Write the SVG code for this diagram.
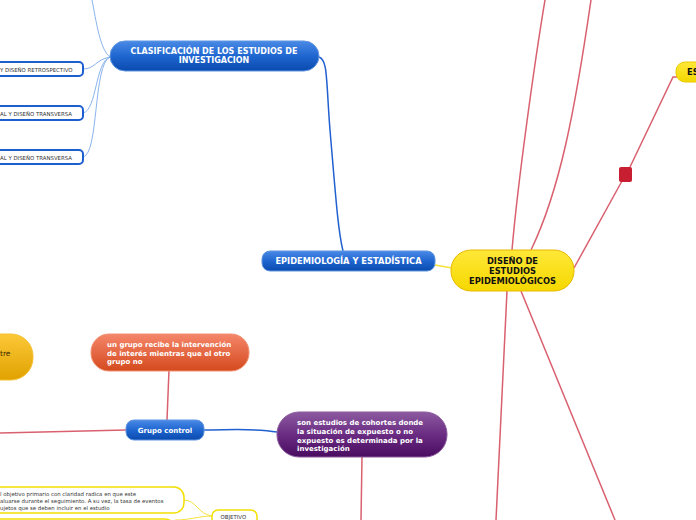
<svg xmlns="http://www.w3.org/2000/svg" width="696" height="520" viewBox="0 0 696 520">
<defs>
<linearGradient id="gBlue" x1="0" y1="0" x2="0" y2="1"><stop offset="0" stop-color="#4a8ae6"/><stop offset="0.5" stop-color="#1f66d0"/><stop offset="1" stop-color="#0a4aae"/></linearGradient>
<linearGradient id="gYel" x1="0" y1="0" x2="0" y2="1"><stop offset="0" stop-color="#ffe838"/><stop offset="1" stop-color="#f5d800"/></linearGradient>
<linearGradient id="gPur" x1="0" y1="0" x2="0" y2="1"><stop offset="0" stop-color="#8c5aa0"/><stop offset="0.5" stop-color="#6a2c82"/><stop offset="1" stop-color="#4a0c60"/></linearGradient>
<linearGradient id="gOra" x1="0" y1="0" x2="0" y2="1"><stop offset="0" stop-color="#f5866a"/><stop offset="1" stop-color="#d44a1e"/></linearGradient>
<linearGradient id="gGold" x1="0" y1="0" x2="0" y2="1"><stop offset="0" stop-color="#fcc838"/><stop offset="1" stop-color="#e0a200"/></linearGradient>
</defs>
<style>
.bl{stroke:#2060d0;fill:none;stroke-width:1.5}
.lb{stroke:#8ab4ec;fill:none;stroke-width:1}
.rd{stroke:#d9606e;fill:none;stroke-width:1.5}
.yl{stroke:#f5e23a;fill:none;stroke-width:1}
.tw{font-family:"DejaVu Sans",Verdana,sans-serif;font-weight:bold;fill:#fff;font-size:8px}
.tb{font-family:"DejaVu Sans",Verdana,sans-serif;font-weight:bold;fill:#fff;font-size:7px}
.tk{font-family:"DejaVu Sans",Verdana,sans-serif;font-weight:bold;fill:#111;font-size:8.3px}
.ts{font-family:"DejaVu Sans",Verdana,sans-serif;fill:#333;font-size:5.4px}
.tn{font-family:"DejaVu Sans",Verdana,sans-serif;fill:#3a2a00;font-size:7.5px}
.bnode{fill:url(#gBlue);stroke:#5f95e0;stroke-width:1}
.wbox{fill:#fff;stroke:#1e5fcf;stroke-width:2}
.ybox{fill:#fff;stroke:#f2e000;stroke-width:1.5}
</style>
<g id="connectors">
<path class="lb" d="M92,0 C96,20 100,50 110,57"/>
<path class="lb" d="M110,57 C95,60 95,69 83,69"/>
<path class="lb" d="M110,57 C95,62 97,110 83,113"/>
<path class="lb" d="M110,57 C93,64 99,154 83,157"/>
<path class="bl" d="M319,57 C328,60 326,80 330,130 C336,200 338,230 343,251"/>
<path d="M435,265 L452,268" stroke="#f5e23a" stroke-width="1.5" fill="none"/>
<path class="rd" d="M512,250 C518,180 535,60 545,0"/>
<path class="rd" d="M531,250 C560,190 575,110 591,0"/>
<path class="rd" d="M574,268 L622,181"/>
<path class="rd" d="M630,167 L673,77 L677,77"/>
<path class="rd" d="M507,291 L496,520"/>
<path class="rd" d="M521,291 L615,520"/>
<path class="rd" d="M362,457 L361,520"/>
<path class="bl" d="M277,432 C255,428 230,430 204,430"/>
<path class="rd" d="M167,420 L169,370"/>
<path class="rd" d="M126,430 L0,433"/>
<path class="yl" d="M212,516 C198,514 196,500 184,500"/>
<path class="yl" d="M212,516 C200,516 190,520 175,520"/>
</g>
<g id="n-clasif">
<rect class="bnode" x="110" y="41" width="209" height="30" rx="15"/>
<text class="tw" text-anchor="middle" x="214" y="54">CLASIFICACIÓN DE LOS ESTUDIOS DE</text>
<text class="tw" text-anchor="middle" x="214" y="63">INVESTIGACION</text>
</g>
<g id="n-retro">
<rect class="wbox" x="-20" y="62" width="103" height="14" rx="4"/>
<text class="ts" x="0" y="71.5">Y DISEÑO RETROSPECTIVO</text>
</g>
<g id="n-trans1">
<rect class="wbox" x="-20" y="106" width="103" height="14" rx="4"/>
<text class="ts" x="0" y="115.5">AL Y DISEÑO TRANSVERSA</text>
</g>
<g id="n-trans2">
<rect class="wbox" x="-20" y="150" width="103" height="14" rx="4"/>
<text class="ts" x="0" y="159.5">AL Y DISEÑO TRANSVERSA</text>
</g>
<g id="n-epi">
<rect class="bnode" x="262" y="251" width="173" height="20" rx="8"/>
<text class="tw" text-anchor="middle" x="348.5" y="264" style="font-size:8.3px">EPIDEMIOLOGÍA Y ESTADÍSTICA</text>
</g>
<g id="n-diseno">
<rect x="451" y="250" width="123" height="41" rx="20" fill="url(#gYel)" stroke="#e8b800" stroke-width="1"/>
<text class="tk" text-anchor="middle" x="512.5" y="264">DISEÑO DE</text>
<text class="tk" text-anchor="middle" x="512.5" y="274">ESTUDIOS</text>
<text class="tk" text-anchor="middle" x="512.5" y="284">EPIDEMIOLÓGICOS</text>
</g>
<g id="n-square">
<rect x="619" y="167" width="13" height="15" rx="2" fill="#c81e32"/>
</g>
<g id="n-es">
<rect x="676" y="62" width="40" height="20" rx="9" fill="url(#gYel)" stroke="#e8c800" stroke-width="1"/>
<text class="tk" x="687" y="75">ES</text>
</g>
<g id="n-cohortes">
<rect x="277" y="412" width="170" height="45" rx="22" fill="url(#gPur)" stroke="#8a5a9c" stroke-width="1"/>
<text class="tb" x="297" y="425">son estudios de cohortes donde</text>
<text class="tb" x="297" y="434">la situación de expuesto o no</text>
<text class="tb" x="297" y="442.5">expuesto es determinada por la</text>
<text class="tb" x="297" y="451">investigación</text>
</g>
<g id="n-grupo">
<rect class="bnode" x="126" y="420" width="78" height="20" rx="8"/>
<text class="tb" text-anchor="middle" x="165" y="433">Grupo control</text>
</g>
<g id="n-interv">
<rect x="91" y="334" width="158" height="37" rx="18" fill="url(#gOra)" stroke="#f09070" stroke-width="1"/>
<text class="tb" x="107" y="347">un grupo recibe la intervención</text>
<text class="tb" x="107" y="355.5">de interés  mientras que el otro</text>
<text class="tb" x="107" y="364">grupo no</text>
</g>
<g id="n-tre">
<rect x="-40" y="334" width="73" height="46" rx="22" fill="url(#gGold)" stroke="#f5c030" stroke-width="1"/>
<text class="tn" x="0" y="356">tre</text>
</g>
<g id="n-objtext">
<rect class="ybox" x="-20" y="487" width="204" height="26" rx="10"/>
<text class="ts" x="0" y="495.5">l objetivo primario con claridad radica en que este</text>
<text class="ts" x="0" y="502.5">aluarse durante el seguimiento. A su vez, la tasa de eventos</text>
<text class="ts" x="0" y="509.5">ujetos que se deben incluir en el estudio</text>
</g>
<g id="n-obj2">
<rect class="ybox" x="-20" y="519" width="195" height="20" rx="10"/>
</g>
<g id="n-objetivo">
<rect class="ybox" x="212" y="510" width="45" height="20" rx="6"/>
<text class="ts" x="220.5" y="519">OBJETIVO</text>
</g>
</svg>
